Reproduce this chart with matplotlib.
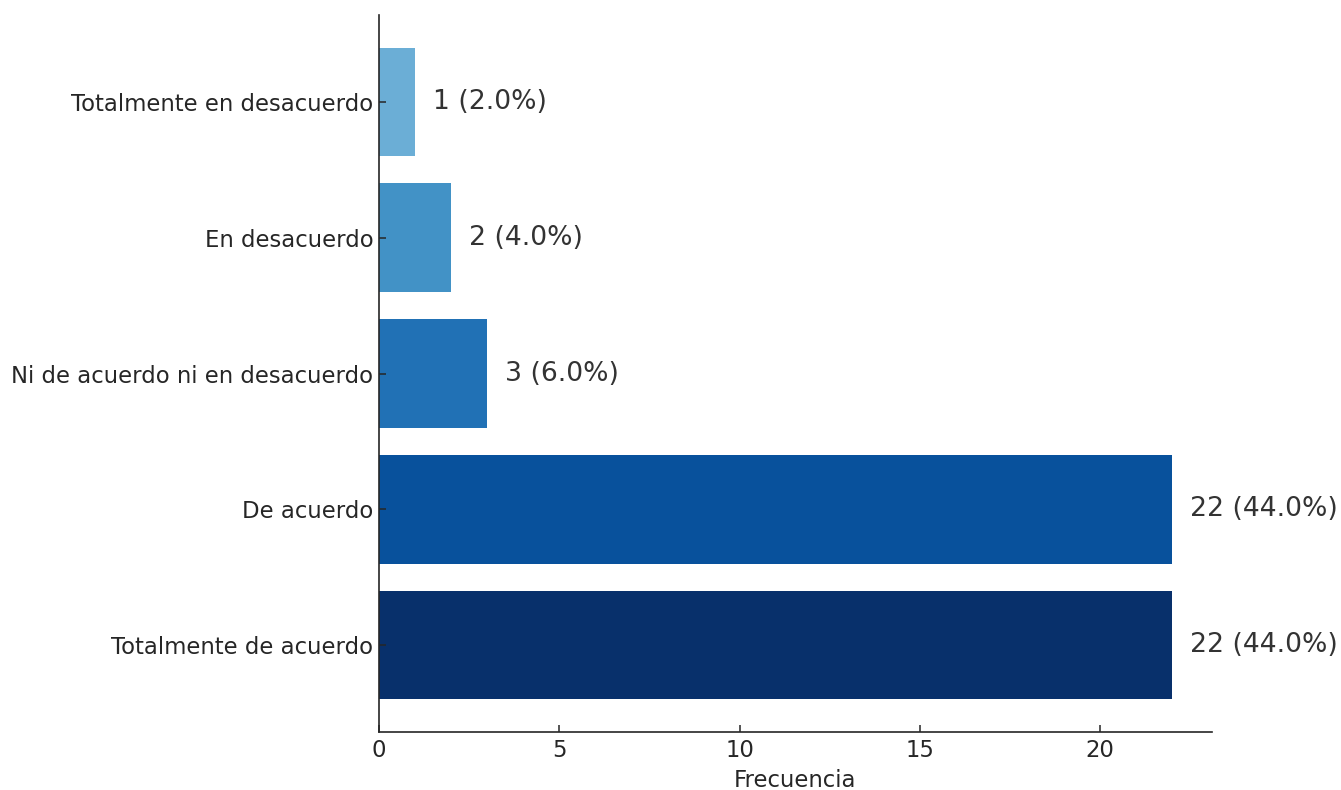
import matplotlib
matplotlib.use("agg")
import matplotlib.pyplot as plt

categorias = [
    "Totalmente de acuerdo",
    "De acuerdo",
    "Ni de acuerdo ni en desacuerdo",
    "En desacuerdo",
    "Totalmente en desacuerdo",
]
frecuencias = [22, 22, 3, 2, 1]
colores = ["#08306b", "#08519c", "#2171b5", "#4292c6", "#6baed6"]

total = sum(frecuencias)

fig = plt.figure(figsize=(13.41, 7.9), dpi=100)
ax = fig.add_axes([0.2826, 0.0734, 0.6212, 0.9076])

bars = ax.barh(categorias, frecuencias, color=colores, height=0.8)

for bar, valor in zip(bars, frecuencias):
    ax.text(
        bar.get_width() + 0.5,
        bar.get_y() + bar.get_height() / 2,
        f"{valor} ({valor / total * 100:.1f}%)",
        va="center", ha="left", fontsize=19.2, color="#333333",
    )

ax.set_xlabel("Frecuencia", fontsize=16.4, color="#262626", labelpad=5)
ax.spines["top"].set_visible(False)
ax.spines["right"].set_visible(False)
for side in ("left", "bottom"):
    ax.spines[side].set_linewidth(1.2)
    ax.spines[side].set_color("#262626")
ax.tick_params(axis="both", direction="in", length=5, width=1.1,
               labelsize=16.4, labelcolor="#262626", color="#262626")
ax.tick_params(axis="x", pad=5)
ax.tick_params(axis="y", pad=4)
ax.set_xticks([0, 5, 10, 15, 20])

fig.savefig("out.png", dpi=100)
plt.close(fig)
